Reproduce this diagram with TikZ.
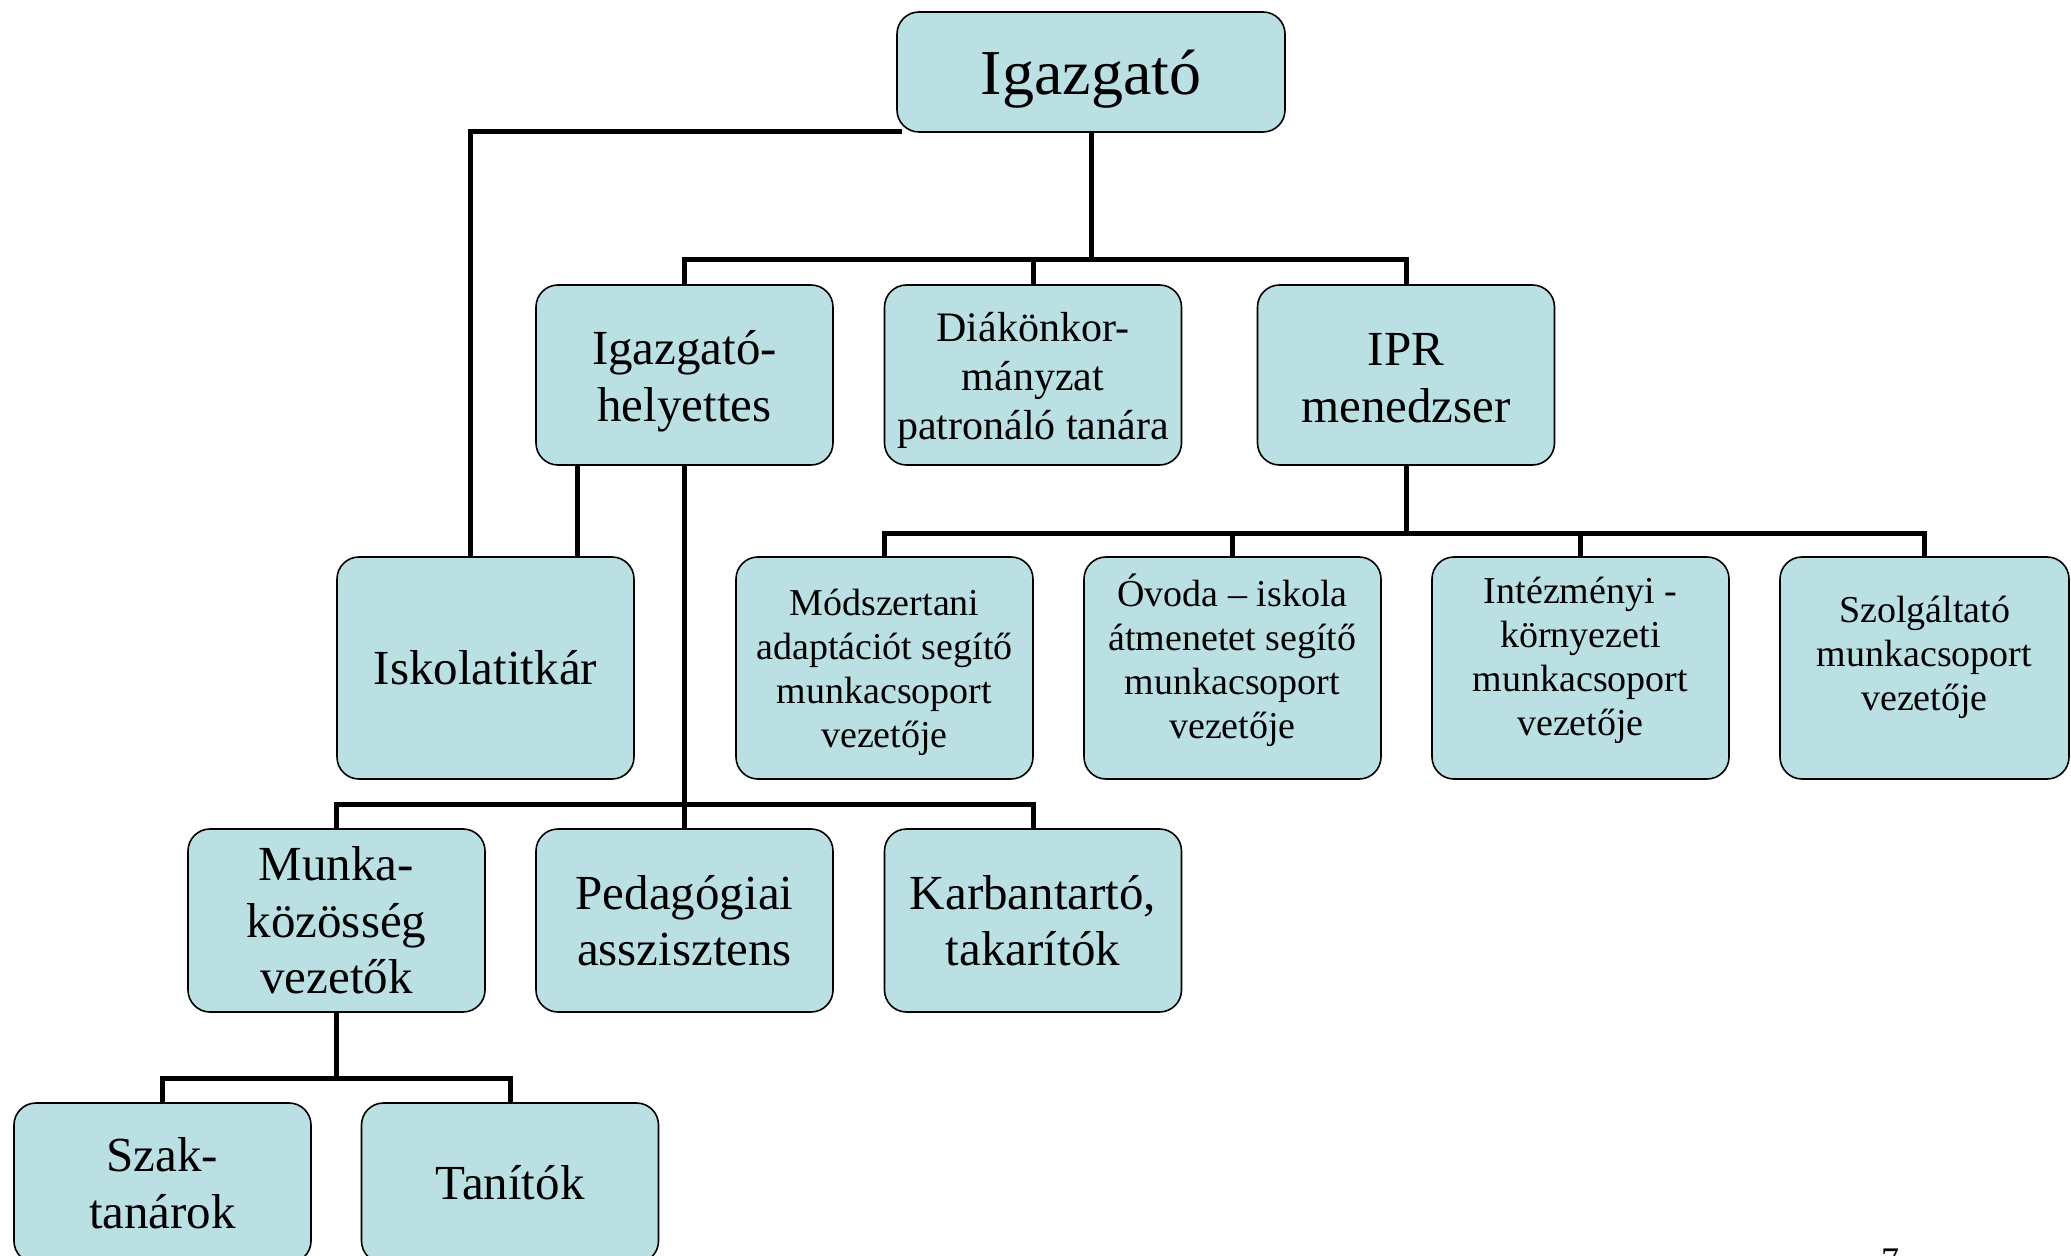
\documentclass[tikz,border=0pt]{standalone}
\usepackage{fontspec}
\setmainfont{Liberation Serif}
\usetikzlibrary{backgrounds,calc}
\definecolor{boxfill}{RGB}{187,224,227}
\newcommand\lowpad[1]{\rule[-#1]{0pt}{1pt}}
\newcommand\toppad[1]{\rule{0pt}{#1}}
\tikzset{
  orgbox/.style={draw=black, line width=0.8pt, fill=boxfill, rounded corners=11pt,
    align=center, inner sep=0pt, minimum width=148.5pt},
  ftop/.style={font=\fontsize{32}{37}\selectfont},
  fbig/.style={font=\fontsize{24.5}{28.3}\selectfont},
  fdiak/.style={font=\fontsize{21}{24.4}\selectfont},
  fsmall/.style={font=\fontsize{19}{22}\selectfont},
  link/.style={line width=2.5pt, draw=black},
}
\begin{document}
\begin{tikzpicture}[x=0.5pt,y=-0.5pt]
\useasboundingbox (0,0) rectangle (2071,1256);
\clip (0,0) rectangle (2071,1256);
% row 1
\node[orgbox, ftop, minimum width=194pt, minimum height=60pt] (ig) at (1091,72) {\toppad{29.5pt}Igazgató};
% row 2
\node[orgbox, fbig, minimum height=90pt] (hel) at (684.5,375) {\toppad{23pt}Igazgató-\\helyettes};
\node[orgbox, fdiak, minimum height=90pt] (diak) at (1033,375) {\toppad{20pt}Diákönkor-\\mányzat\\patronáló tanára};
\node[orgbox, fbig, minimum height=90pt] (ipr) at (1406,375) {\toppad{19pt}IPR\\menedzser};
% row 3
\node[orgbox, fbig, minimum height=111pt] (isk) at (485.5,668) {Iskolatitkár};
\node[orgbox, fsmall, minimum height=111pt] (mod) at (884.5,668) {\toppad{18pt}Módszertani\\adaptációt segítő\\munkacsoport\\vezetője};
\node[orgbox, fsmall, minimum height=111pt] (ovo) at (1232.5,668) {Óvoda – iskola\\átmenetet segítő\\munkacsoport\\vezetője\lowpad{12pt}};
\node[orgbox, fsmall, minimum height=111pt] (int) at (1580.5,668) {Intézményi -\\környezeti\\munkacsoport\\vezetője\lowpad{12pt}};
\node[orgbox, fsmall, minimum width=144.5pt, minimum height=111pt] (szo) at (1924.5,668) {Szolgáltató\\munkacsoport\\vezetője\lowpad{15pt}};
% row 4
\node[orgbox, fbig, minimum height=91.5pt] (mun) at (336.5,920.5) {Munka-\\közösség\\vezetők};
\node[orgbox, fbig, minimum height=91.5pt] (ped) at (684.5,920.5) {Pedagógiai\\asszisztens};
\node[orgbox, fbig, minimum height=91.5pt] (kar) at (1033,920.5) {Karbantartó,\\takarítók};
% row 5
\node[orgbox, fbig, minimum height=80pt] (szak) at (162.5,1183) {Szak-\\tanárok};
\node[orgbox, fbig, minimum height=80pt] (tan) at (510,1183) {Tanítók};
% page number
\node[font=\fontsize{18}{20}\selectfont, anchor=base, inner sep=0pt] (pg) at (1890,1272) {7};
% connectors
\coordinate (b1) at (1091,260);
\coordinate (b2) at (684.5,804);
\coordinate (b3) at (336.5,1078);
\coordinate (b4) at (1406,534);
\coordinate (k1) at ($(isk.north)+(-15,0)$);
\coordinate (k2) at ($(isk.north)+(92,0)$);
\begin{pgfonlayer}{background}
\draw[link] (ig.south) -- (b1);
\draw[link] (hel.north) |- (b1) -| (ipr.north);
\draw[link] (diak.north) -- (diak.north |- b1);
\draw[link] ($(ig.south west)+(6,-1)$) -| (k1);
\draw[link] (k2 |- hel.south) -- (k2);
\draw[link] (hel.south) -- (ped.north);
\draw[link] (mun.north) |- (b2) -| (kar.north);
\draw[link] (mun.south) -- (b3);
\draw[link] (szak.north) |- (b3) -| (tan.north);
\draw[link] (ipr.south) -- (b4);
\draw[link] (mod.north) |- (b4) -| (szo.north);
\draw[link] (ovo.north) -- (ovo.north |- b4);
\draw[link] (int.north) -- (int.north |- b4);
\end{pgfonlayer}
\end{tikzpicture}
\end{document}
